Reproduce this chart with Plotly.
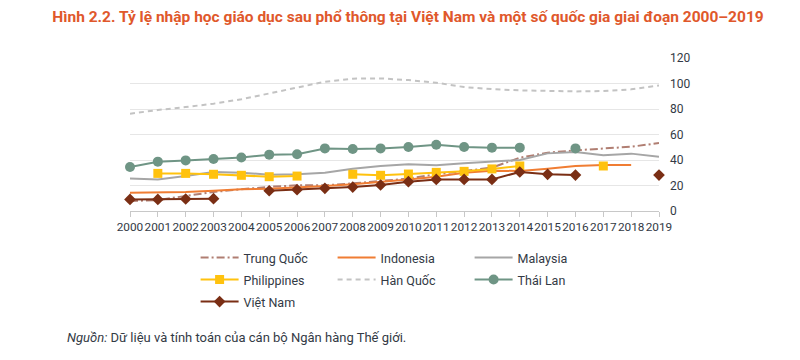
import plotly.graph_objects as go

years = list(range(2000, 2020))

trung_quoc = [7.8, 8.6, 11.8, 14.9, 17.0, 19.0, 20.1, 20.1, 21.7, 23.8, 25.4, 28.8, 31.4, 34.0, 41.8, 45.7, 47.6, 48.9, 50.4, 53.3]
indonesia = [14.4, 14.4, 14.9, 15.9, 17.0, 17.5, 18.3, 19.6, 20.9, 22.7, 24.8, 26.9, 30.0, 31.6, 31.4, 33.2, 35.3, 36.0, 36.0, None]
malaysia = [25.4, 24.8, 27.4, 30.6, 30.0, 28.5, 28.8, 30.0, 33.2, 35.3, 36.6, 35.8, 37.4, 38.7, 40.0, 45.2, 46.3, 43.7, 45.0, 42.6]
philippines = [None, 29.5, 29.5, 28.8, 28.0, 26.9, 27.4, None, 28.8, 28.0, 29.0, 30.3, 31.1, 33.0, 35.3, None, None, 35.3, None, None]
han_quoc = [76.3, 79.2, 81.5, 84.2, 87.6, 92.0, 96.7, 101.4, 103.8, 104.0, 102.7, 100.6, 97.2, 95.6, 94.6, 94.1, 93.8, 94.1, 95.4, 98.5]
thai_lan = [34.5, 38.7, 39.7, 40.8, 42.0, 44.2, 44.5, 49.1, 48.6, 49.1, 50.2, 52.0, 50.2, 49.7, 49.7, None, 49.1, None, None, None]
viet_nam = [9.1, 9.1, 9.4, 9.7, None, 15.9, 16.7, 17.8, 18.8, 20.4, 23.0, 24.8, 24.8, 24.8, 30.6, 28.8, 28.2, None, None, 28.2]

y_ticks = [0, 20, 40, 60, 80, 100, 120]

title_text = "Hình 2.2. Tỷ lệ nhập học giáo dục sau phổ thông tại Việt Nam và một số quốc gia giai đoạn 2000–2019"
source_text = "<i>Nguồn:</i> Dữ liệu và tính toán của cán bộ Ngân hàng Thế giới."

fig = go.Figure()

def add(name, vals, color, dash="solid", marker=None, msize=0):
    mode = "lines+markers" if marker else "lines"
    fig.add_trace(go.Scatter(
        x=years, y=vals, name=f'<span style="font-size:12.5px">{name}</span>', mode=mode,
        line=dict(color=color, width=2, dash=dash),
        marker=dict(symbol=marker or "circle", size=msize, color=color),
        cliponaxis=False, connectgaps=False,
    ))

add("Trung Quốc", trung_quoc, "#B07E72", dash="8px,3px,2px,3px")
add("Indonesia", indonesia, "#F07D33")
add("Malaysia", malaysia, "#A6A6A6")
add("Philippines", philippines, "#FFC20E", marker="square", msize=9)
add("Hàn Quốc", han_quoc, "#C3C3C3", dash="5px,4px")
add("Thái Lan", thai_lan, "#6F9585", marker="circle", msize=10)
add("Việt Nam", viet_nam, "#7A2E14", marker="diamond", msize=9)

fig.update_layout(
    width=800, height=360,
    margin=dict(l=122, r=149, t=50, b=157, autoexpand=False),
    paper_bgcolor="white", plot_bgcolor="white",
    font=dict(family="Roboto", size=12, color="#333a45"),
    title=dict(text=f"<b>{title_text}</b>", x=0.5, xref="container", xanchor="center",
               y=1 - 9 / 360, yanchor="middle",
               font=dict(family="Roboto", size=15.5, color="#E0582B")),
    showlegend=True,
    legend=dict(orientation="h", x=0.124, xanchor="left", y=-0.2, yanchor="top",
                entrywidth=84, entrywidthmode="pixels", itemwidth=38,
                font=dict(family="Roboto", size=14.6, color="#333a45"),
                traceorder="normal", bgcolor="rgba(0,0,0,0)"),
    annotations=[dict(text=source_text, xref="paper", yref="paper",
                      x=-65 / 529, y=-126 / 153, xanchor="left", yanchor="middle",
                      showarrow=False, font=dict(family="Roboto", size=13, color="#333a45"))],
)

fig.update_xaxes(range=[2000, 2019], tickmode="array", tickvals=years,
                 ticktext=[str(y) for y in years], showgrid=False, tickangle=0,
                 showline=True, linecolor="#C8C8C8", linewidth=1,
                 ticks="outside", ticklen=5, tickcolor="#C8C8C8",
                 tickfont=dict(size=11.8, color="#333a45"), zeroline=False)
fig.update_yaxes(range=[0, 120], tickvals=y_ticks, side="right",
                 showgrid=True, gridcolor="#E6E6E6", gridwidth=1,
                 zeroline=False, showline=False, ticklabelstandoff=10,
                 tickfont=dict(size=12, color="#333a45"))

fig.write_html("out.html")
